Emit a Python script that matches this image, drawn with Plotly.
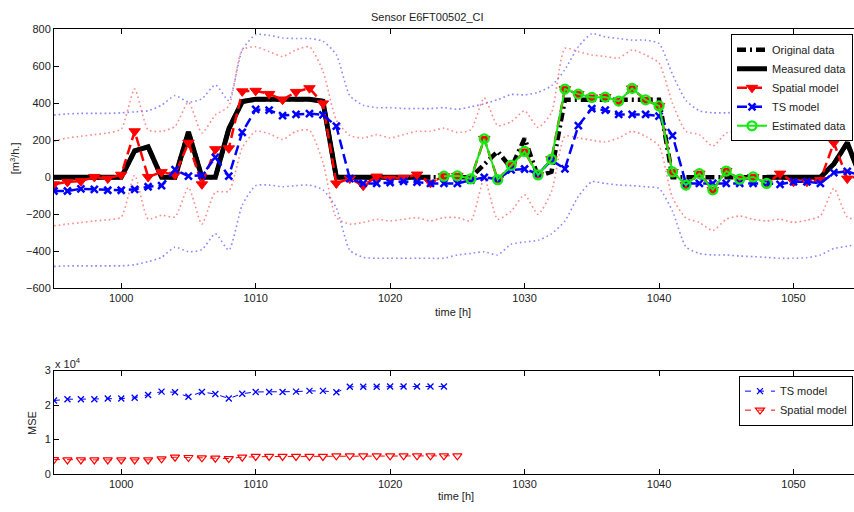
import plotly.graph_objects as go

hours = list(range(995, 1056))

original = [0, 0, 0, 0, 0, 0, 143, 165, 0, 0,
            245, 0, 0, 262, 410, 422, 422, 422, 422, 422,
            412, 0, 0, 0, 0, 0, 0, 0, 0, 0,
            0, 0, 70, 140, 50, 210, 5, 30, 420, 420,
            420, 420, 420, 420, 420, 420, 0, 0, 0, 0,
            0, 0, 0, 0, 0, 0, 0, 0, 72, 187,
            0]

measured = [0, 0, 0, 0, 0, 0, 143, 165, 0, 0,
            245, 0, 0, 262, 410, 422, 422, 422, 422, 422,
            412, 0, 0, 0, 0, 0, 0, 0, 0, None,
            None, None, None, None, None, None, None, None, None, None,
            None, None, None, None, None, None, None, None, None, None,
            None, None, None, 0, 0, 0, 0, 0, 72, 187,
            0]

spatial = [-38, -25, -21, 2, -7, 14, 249, 2, 28, 14,
           187, -38, 152, 157, 465, 468, 451, 420, 462, 482,
           400, -33, -7, -45, 4, -7, -3, 15, -30, 6,
           8, -8, 208, -13, 65, 140, 13, 98, 477, 450,
           432, 434, 412, 481, 419, 386, 29, -42, 20, -68,
           34, -10, 2, -33, 20, -24, -24, -15, 187, -7,
           10]

ts_model = [-74, -74, -62, -65, -70, -70, -65, -51, -45, 41,
            6, 11, 108, 6, 243, 367, 363, 334, 340, 345,
            338, 277, -7, -33, -33, -28, -22, -26, -33, -33,
            -33, -15, 0, -10, 40, 45, 18, 92, 46, 280,
            372, 363, 340, 340, 340, 331, 226, -33, -33, -33,
            -33, -33, -33, -33, -38, -24, -24, -33, 25, 32,
            10]

est_hours = list(range(1024, 1049))
estimated = [6, 8, -8, 208, -13, 65, 140, 13, 98, 477,
             450, 432, 434, 412, 481, 419, 386, 29, -42, 20,
             -68, 34, -10, 2, -33]

ts_upper = [337, 343, 346, 346, 346, 349, 354, 360, 390, 442,
            407, 425, 500, 416, 689, 772, 768, 754, 751, 751,
            736, 663, 442, 390, 377, 377, 372, 372, 372, 377,
            368, 381, 398, 420, 448, 446, 460, 495, 583, 707,
            777, 759, 751, 742, 742, 724, 557, 416, 360, 349,
            349, 354, 354, 349, 349, 349, 354, 360, 372, 407,
            434]
ts_lower = [-482, -479, -479, -479, -479, -479, -473, -456, -433, -377,
            -403, -391, -305, -394, -150, -45, -42, -51, -45, -42,
            -68, -165, -394, -433, -438, -438, -438, -438, -438, -438,
            -420, -412, -403, -420, -362, -350, -341, -306, -236, -103,
            -24, -33, -42, -45, -51, -60, -183, -376, -412, -420,
            -420, -426, -429, -433, -438, -438, -435, -420, -385, -373,
            -360]
sp_upper = [196, 213, 222, 231, 240, 261, 478, 257, 249, 275,
            407, 240, 337, 385, 689, 706, 680, 654, 689, 706,
            575, 310, 226, 213, 231, 213, 231, 249, 249, 266,
            243, 257, 430, 280, 300, 360, 270, 350, 698, 680,
            662, 654, 645, 689, 662, 618, 400, 249, 231, 169,
            240, 249, 222, 201, 222, 205, 213, 240, 400, 225,
            240]
sp_lower = [-262, -253, -245, -236, -230, -215, 11, -226, -205, -214,
            -55, -253, -80, -75, 160, 249, 236, 205, 249, 254,
            81, -218, -253, -244, -227, -236, -227, -218, -236, -218,
            -218, -236, -6, -227, -183, -95, -200, -77, 222, 213,
            201, 191, 213, 249, 222, 170, -110, -220, -244, -288,
            -227, -209, -227, -236, -227, -244, -232, -209, -60, -215,
            -230]

mse_ts_hours = list(range(995, 1025))
mse_ts = [21300, 21700, 21700, 21700, 21900, 21900, 22100, 22900, 23900, 23700,
          22400, 23800, 23200, 21900, 23300, 23800, 23800, 23800, 23900, 24100,
          24100, 23700, 25300, 25300, 25300, 25400, 25400, 25400, 25400, 25400]
mse_sp_hours = list(range(995, 1026))
mse_sp = [4200, 4100, 4100, 4100, 4100, 4100, 4100, 4100, 4400, 4900,
          4800, 4700, 4600, 4500, 4900, 5100, 5100, 5100, 5100, 5100,
          5100, 5300, 5300, 5300, 5300, 5300, 5300, 5300, 5300, 5300,
          5300]

x_ticks = [1000, 1010, 1020, 1030, 1040, 1050]
y_ticks_top = [-600, -400, -200, 0, 200, 400, 600, 800]
y_ticks_bot = [0, 10000, 20000, 30000]
y_ticklabels_bot = ["0", "1", "2", "3"]

W, H = 854, 512
FONT = "Liberation Sans, Arial, sans-serif"
RED_BAND = "rgba(255,40,40,0.55)"
BLUE_BAND = "rgba(40,40,255,0.55)"
GREEN = "#14ea14"

fig = go.Figure()

band_style = dict(mode="lines", showlegend=False, hoverinfo="skip",
                  xaxis="x", yaxis="y")
for yv, col in [(ts_upper, BLUE_BAND), (ts_lower, BLUE_BAND),
                (sp_upper, RED_BAND), (sp_lower, RED_BAND)]:
    fig.add_trace(go.Scatter(x=hours, y=yv,
                             line=dict(color=col, width=1.6, dash="1.6px,3px",
                                       shape="spline", smoothing=0.6),
                             **band_style))

fig.add_trace(go.Scatter(x=hours, y=original, mode="lines", name="Original data",
                         legendrank=1,
                         line=dict(color="black", width=4.5, dash="9px,4px,2px,4px")))
fig.add_trace(go.Scatter(x=hours, y=measured, mode="lines", name="Measured data",
                         legendrank=2, connectgaps=False,
                         line=dict(color="black", width=5)))
fig.add_trace(go.Scatter(x=hours, y=spatial, mode="lines+markers", name="Spatial model",
                         legendrank=3,
                         line=dict(color="red", width=2.5, dash="10px,5px"),
                         marker=dict(symbol="triangle-down", size=10, color="red",
                                     line=dict(color="red", width=1))))
fig.add_trace(go.Scatter(x=hours, y=ts_model, mode="lines+markers", name="TS model",
                         legendrank=4,
                         line=dict(color="blue", width=2.5, dash="10px,5px"),
                         marker=dict(symbol="x-thin-open", size=7, color="blue",
                                     line=dict(color="blue", width=2.5))))
fig.add_trace(go.Scatter(x=est_hours, y=estimated, mode="lines+markers", name="Estimated data",
                         legendrank=5,
                         line=dict(color=GREEN, width=2),
                         marker=dict(symbol="circle-open", size=9, color=GREEN,
                                     line=dict(color=GREEN, width=2.2))))

fig.add_trace(go.Scatter(x=mse_ts_hours, y=mse_ts, mode="lines+markers", name="TS model",
                         xaxis="x2", yaxis="y2", legend="legend2",
                         line=dict(color="blue", width=1, dash="6px,7px"),
                         marker=dict(symbol="x-thin-open", size=6, color="blue",
                                     line=dict(color="blue", width=1.3))))
fig.add_trace(go.Scatter(x=mse_sp_hours, y=mse_sp, mode="lines+markers", name="Spatial model",
                         xaxis="x2", yaxis="y2", legend="legend2",
                         line=dict(color="red", width=1, dash="6px,7px"),
                         marker=dict(symbol="triangle-down-open", size=8, color="red",
                                     line=dict(color="red", width=1.2))))

x0 = 54 / W
top_dom = [1 - 289 / H, 1 - 24 / H]
bot_dom = [1 - 479.3 / H, 1 - 373.3 / H]
xr = [995, 1054.5]

axis_common = dict(showgrid=False, zeroline=False, showline=True, linecolor="black",
                   linewidth=1, ticks="inside", ticklen=5, tickcolor="black",
                   tickfont=dict(family=FONT, size=11, color="#222"))

fig.update_layout(
    width=W, height=H,
    margin=dict(l=0, r=0, t=0, b=0),
    paper_bgcolor="white", plot_bgcolor="white",
    font=dict(family=FONT, size=11, color="#222"),
    xaxis=dict(domain=[x0, 1], range=xr, tickvals=x_ticks, mirror="ticks",
               anchor="y", **axis_common),
    yaxis=dict(domain=top_dom, range=[-600, 800], tickvals=y_ticks_top,
               anchor="x", **axis_common),
    xaxis2=dict(domain=[x0, 1], range=xr, tickvals=x_ticks, mirror="ticks",
                anchor="y2", **axis_common),
    yaxis2=dict(domain=bot_dom, range=[0, 30000], tickvals=y_ticks_bot,
                ticktext=y_ticklabels_bot, anchor="x2", **axis_common),
    legend=dict(x=853 / W, xanchor="right", y=1 - 29 / H, yanchor="top",
                bgcolor="white", bordercolor="black", borderwidth=1,
                font=dict(family=FONT, size=11, color="#222"),
                tracegroupgap=0, itemwidth=30),
    legend2=dict(x=853 / W, xanchor="right", y=1 - 378.5 / H, yanchor="top",
                 bgcolor="white", bordercolor="black", borderwidth=1,
                 font=dict(family=FONT, size=11, color="#222"),
                 tracegroupgap=0, itemwidth=30),
    showlegend=True,
)

ann = dict(showarrow=False, xref="paper", yref="paper",
           font=dict(family=FONT, size=11, color="#222"))
fig.add_annotation(text="Sensor E6FT00502_CI", x=427 / W, y=1 - 11 / H,
                   xanchor="center", yanchor="middle", **ann)
fig.add_annotation(text="time [h]", x=453 / W, y=1 - 313 / H,
                   xanchor="center", yanchor="middle", **ann)
fig.add_annotation(text="time [h]", x=456 / W, y=1 - 502 / H,
                   xanchor="center", yanchor="middle", **ann)
fig.add_annotation(text="[m<sup>3</sup>/h.]", x=15 / W, y=1 - 156 / H, textangle=-90,
                   xanchor="center", yanchor="middle", **ann)
fig.add_annotation(text="MSE", x=32 / W, y=1 - 427 / H, textangle=-90,
                   xanchor="center", yanchor="middle", **ann)
fig.add_annotation(text="x 10<sup>4</sup>", x=53 / W, y=1 - 366 / H,
                   xanchor="left", yanchor="middle", **ann)

fig.write_html("out.html")
